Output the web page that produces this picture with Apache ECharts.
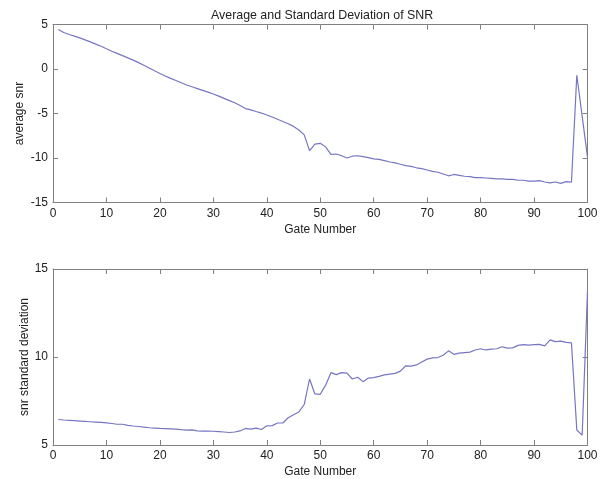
<!DOCTYPE html>
<html>
<head>
<meta charset="utf-8">
<script src="https://cdn.jsdelivr.net/npm/echarts@6/dist/echarts.min.js"></script>
<style>
html,body{margin:0;padding:0;background:#fff;}
#chart{width:607px;height:479px;}
</style>
</head>
<body>
<div id="chart"></div>
<script>
var titleText = 'Average and Standard Deviation of SNR';
var xName = 'Gate Number';
var yNameTop = 'average snr';
var yNameBottom = 'snr standard deviation';
var xTicks = [0,10,20,30,40,50,60,70,80,90,100];
var yTicksTop = [-15,-10,-5,0,5];
var yTicksBottom = [5,10,15];

var gates = [1,2,3,4,5,6,7,8,9,10,11,12,13,14,15,16,17,18,19,20,
21,22,23,24,25,26,27,28,29,30,31,32,33,34,35,36,37,38,39,40,
41,42,43,44,45,46,47,48,49,50,51,52,53,54,55,56,57,58,59,60,
61,62,63,64,65,66,67,68,69,70,71,72,73,74,75,76,77,78,79,80,
81,82,83,84,85,86,87,88,89,90,91,92,93,94,95,96,97,98,99,100];

var avgSnr = [4.45,4.1,3.88,3.7,3.5,3.27,3.05,2.8,2.55,2.27,
2.0,1.75,1.5,1.25,1.0,0.72,0.42,0.12,-0.2,-0.5,
-0.78,-1.05,-1.3,-1.55,-1.8,-2.0,-2.2,-2.4,-2.6,-2.81,
-3.05,-3.3,-3.55,-3.8,-4.1,-4.45,-4.6,-4.78,-4.95,-5.17,
-5.4,-5.65,-5.9,-6.15,-6.45,-6.85,-7.4,-9.17,-8.45,-8.35,
-8.75,-9.6,-9.55,-9.75,-10.0,-9.8,-9.75,-9.85,-9.95,-10.1,
-10.15,-10.3,-10.45,-10.55,-10.7,-10.85,-10.95,-11.1,-11.2,-11.35,
-11.5,-11.6,-11.8,-12.0,-11.85,-11.95,-12.05,-12.1,-12.2,-12.2,
-12.25,-12.3,-12.35,-12.35,-12.4,-12.4,-12.5,-12.5,-12.6,-12.6,
-12.55,-12.7,-12.8,-12.7,-12.85,-12.65,-12.7,-0.7,-5.3,-9.9];

var stdSnr = [6.45,6.42,6.4,6.38,6.36,6.34,6.32,6.3,6.28,6.26,
6.22,6.18,6.18,6.12,6.08,6.05,6.02,5.98,5.96,5.94,
5.93,5.92,5.9,5.87,5.85,5.86,5.8,5.79,5.79,5.78,
5.76,5.74,5.71,5.74,5.8,5.94,5.9,5.96,5.88,6.09,
6.1,6.25,6.25,6.55,6.72,6.88,7.3,8.75,7.9,7.88,
8.4,9.11,9.0,9.11,9.08,8.75,8.85,8.6,8.8,8.83,
8.9,8.98,9.03,9.07,9.2,9.5,9.48,9.55,9.72,9.88,
9.95,9.97,10.1,10.35,10.15,10.22,10.25,10.28,10.4,10.47,
10.4,10.45,10.47,10.58,10.5,10.52,10.66,10.7,10.68,10.7,
10.72,10.63,10.97,10.87,10.9,10.83,10.8,5.85,5.56,13.75];

var FONT = 'Liberation Sans, Arial, sans-serif';
var frameColor = '#808080';
var textColor = '#222';
var lineColor = '#7676c2';

function pairs(xs, ys){ return xs.map(function(x,i){ return [x, ys[i]]; }); }

function xAx(gi, pos, show){
  return {
    gridIndex: gi, type: 'value', position: pos,
    min: xTicks[0], max: xTicks[xTicks.length-1], interval: xTicks[1]-xTicks[0],
    axisLine: {show: true, onZero: false, lineStyle: {color: frameColor, width: 1}},
    axisTick: {show: true, inside: true, length: 5, lineStyle: {color: frameColor}},
    axisLabel: {show: show, fontFamily: FONT, fontSize: 12, color: textColor, margin: 5},
    splitLine: {show: false},
    name: show ? xName : '', nameLocation: 'middle', nameGap: 21,
    nameTextStyle: {fontFamily: FONT, fontSize: 12, color: textColor}
  };
}
function yAx(gi, pos, show, ticks, name, gap){
  return {
    gridIndex: gi, type: 'value', position: pos,
    min: ticks[0], max: ticks[ticks.length-1], interval: ticks[1]-ticks[0],
    axisLine: {show: true, onZero: false, lineStyle: {color: frameColor, width: 1}},
    axisTick: {show: true, inside: true, length: 5, lineStyle: {color: frameColor}},
    axisLabel: {show: show, fontFamily: FONT, fontSize: 12, color: textColor, margin: 5},
    splitLine: {show: false},
    name: show ? name : '', nameLocation: 'middle', nameGap: gap, nameRotate: 90,
    nameMoveOverlap: false,
    nameTextStyle: {fontFamily: FONT, fontSize: 12, color: textColor}
  };
}

var chart = echarts.init(document.getElementById('chart'), null, {renderer: 'canvas'});
chart.setOption({
  animation: false,
  backgroundColor: '#fff',
  title: {
    text: titleText, left: 206, top: 5,
    textStyle: {fontFamily: FONT, fontSize: 12.4, fontWeight: 'normal', color: textColor}
  },
  grid: [
    {left: 53, right: 19.5, top: 24.5, height: 178, containLabel: false},
    {left: 53, right: 19.5, top: 269, height: 178, containLabel: false}
  ],
  xAxis: [xAx(0,'bottom',true), xAx(0,'top',false), xAx(1,'bottom',true), xAx(1,'top',false)],
  yAxis: [
    yAx(0,'left',true,yTicksTop,yNameTop,27), yAx(0,'right',false,yTicksTop,'',0),
    yAx(1,'left',true,yTicksBottom,yNameBottom,22), yAx(1,'right',false,yTicksBottom,'',0)
  ],
  series: [
    {type: 'line', xAxisIndex: 0, yAxisIndex: 0, data: pairs(gates, avgSnr),
     showSymbol: false, symbol: 'none', lineStyle: {color: lineColor, width: 1.2}},
    {type: 'line', xAxisIndex: 2, yAxisIndex: 2, data: pairs(gates, stdSnr),
     showSymbol: false, symbol: 'none', lineStyle: {color: lineColor, width: 1.2}}
  ]
});
</script>
</body>
</html>
